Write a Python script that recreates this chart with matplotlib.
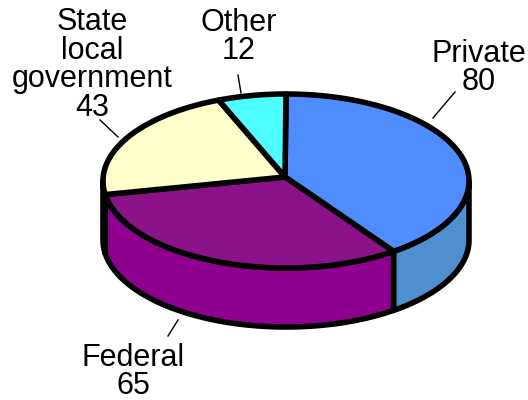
import numpy as np
import matplotlib
matplotlib.use('Agg')
import matplotlib.pyplot as plt
from matplotlib.patches import Polygon

labels = ['Private\n80', 'Federal\n65', 'State\nlocal\ngovernment\n43', 'Other\n12']
values = [80, 65, 43, 12]
top_colors = ['#4f8cff', '#8b1288', '#ffffcc', '#4dffff']
side_colors = ['#4f8fd0', '#8f008f', '#ffffcc', '#4dffff']
label_pos = [(479, 68), (133, 372), (92, 65), (239, 37)]
leader_pos = [((433, 118), (455, 92)), ((168, 336), (178, 320)),
              ((100, 120), (118, 137)), ((238, 75), (241, 93))]

cx, cy = 286, 181
rx, ry = 183, 87
apex = (285, 177)
depth = 59


def ellipse(a):
    # angle measured clockwise from the top of the pie
    return cx + rx * np.sin(a), cy - ry * np.cos(a)


fig = plt.figure(figsize=(5.28, 4.0), dpi=100)
ax = fig.add_axes([0, 0, 1, 1])
ax.set_xlim(0, 528)
ax.set_ylim(400, 0)
ax.axis('off')

edges = np.cumsum([0] + values) / sum(values) * 2 * np.pi

# Side wall first, only the front half shows
for i in range(len(values)):
    a0 = max(edges[i], np.pi / 2)
    a1 = min(edges[i + 1], 3 * np.pi / 2)
    if a1 <= a0:
        continue
    t = np.linspace(a0, a1, 80)
    x, y = ellipse(t)
    pts = np.column_stack([np.r_[x, x[::-1]], np.r_[y, y[::-1] + depth]])
    ax.add_patch(Polygon(pts, closed=True, fc=side_colors[i], ec='black', lw=4, joinstyle='round'))

# Top face
for i in range(len(values)):
    t = np.linspace(edges[i], edges[i + 1], 80)
    x, y = ellipse(t)
    pts = np.column_stack([np.r_[apex[0], x], np.r_[apex[1], y]])
    ax.add_patch(Polygon(pts, closed=True, fc=top_colors[i], ec='black', lw=4, joinstyle='round'))

for lab, pos in zip(labels, label_pos):
    ax.text(pos[0], pos[1], lab, ha='center', va='center', fontsize=22,
            family='Liberation Sans', linespacing=0.93, color='black')

for p0, p1 in leader_pos:
    ax.plot([p0[0], p1[0]], [p0[1], p1[1]], color='black', lw=1)

fig.savefig('out.png', dpi=100)
